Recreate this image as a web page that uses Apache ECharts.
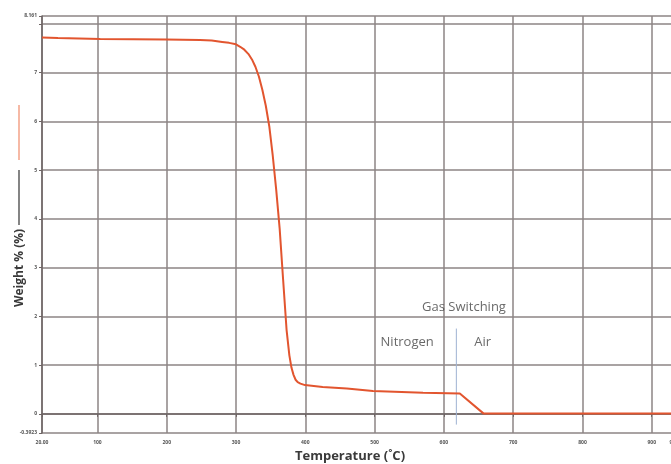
<!DOCTYPE html>
<html><head><meta charset="utf-8">
<script src="https://cdn.jsdelivr.net/npm/echarts@6/dist/echarts.min.js"></script>
<style>html,body{margin:0;padding:0;background:#fff}#c{width:671px;height:464px}</style>
</head><body><div id="c"></div>
<script>
// Temperature (°C)
const temps = [20, 43, 45, 104, 199, 248, 265, 280, 290, 300, 306, 312, 318, 323, 328, 333, 338, 343, 348, 353, 358, 363, 368, 373, 377, 380, 383, 386, 389, 393, 399.5, 425, 460, 497.5, 570, 623, 657, 935];
// Weight (%)
const weights = [7.72, 7.71, 7.69, 7.69, 7.68, 7.67, 7.66, 7.63, 7.61, 7.58, 7.53, 7.47, 7.38, 7.27, 7.12, 6.92, 6.65, 6.32, 5.9, 5.3, 4.6, 3.8, 2.75, 1.72, 1.2, 0.95, 0.8, 0.7, 0.65, 0.62, 0.59, 0.55, 0.52, 0.47, 0.435, 0.42, 0.01, 0.01];
// gas switch marker (temperature, weight range)
const switchTemp = [618, 618];
const switchWeight = [1.75, -0.22];
// annotation labels
const noteText = ['Gas Switching', 'Nitrogen', 'Air'];
const noteTemp = [629, 547, 656];
const noteWeight = [2.19, 1.475, 1.475];
const xMin = 20, xMax = 935;
const yMin = -0.3923, yMax = 8.161;

const chart = echarts.init(document.getElementById('c'), null, {renderer: 'canvas'});
const gridColor = '#8d8585';
const labelStyle = {fontSize: 5, color: '#555', fontFamily: 'Open Sans', fontWeight: 'bold'};
chart.setOption({
  animation: false,
  backgroundColor: '#fff',
  grid: {left: 42, right: -5, top: 16, bottom: 31, containLabel: false, outerBoundsMode: 'none'},
  xAxis: {
    type: 'value', min: xMin, max: xMax, splitNumber: 9,
    axisLine: {show: true, lineStyle: {color: '#6e6464', width: 1.5}},
    axisTick: {show: true, length: 3, lineStyle: {color: '#6e6464'}},
    splitLine: {show: true, lineStyle: {color: gridColor, width: 1.5}},
    axisLabel: Object.assign({margin: 7, showMinLabel: true, showMaxLabel: true,
      formatter: v => v === xMin ? '20.00' : (v === xMax ? '935.0' : String(v))}, labelStyle)
  },
  yAxis: {
    type: 'value', min: yMin, max: yMax, splitNumber: 8,
    axisLine: {show: true, lineStyle: {color: '#6e6464', width: 1.5}},
    axisTick: {show: true, length: 3, lineStyle: {color: '#6e6464'}},
    splitLine: {show: true, lineStyle: {color: gridColor, width: 1.5}},
    axisLabel: Object.assign({margin: 5, showMinLabel: true, showMaxLabel: true,
      formatter: v => v === yMin ? '-0.3923' : (v === yMax ? '8.161' : (v === 8 ? '' : String(v)))}, labelStyle)
  },
  series: [
    {
      type: 'line', data: temps.map((t, i) => [t, weights[i]]),
      showSymbol: false, smooth: false,
      lineStyle: {color: '#e2552f', width: 2}, z: 5
    },
    {
      type: 'line', data: switchTemp.map((t, i) => [t, switchWeight[i]]),
      showSymbol: false, lineStyle: {color: '#9fb3d3', width: 1}, z: 4
    },
    {
      type: 'scatter', symbolSize: 0, z: 6,
      data: noteText.map((s, i) => ({value: [noteTemp[i], noteWeight[i]], name: s})),
      label: {show: true, position: 'inside', formatter: p => p.name,
        fontFamily: 'Open Sans', fontSize: 13, color: '#444'}
    }
  ],
  graphic: [
    {type: 'text', x: 350, y: 456, style: {text: 'Temperature (˚C)', font: 'bold 13px "Open Sans"', fill: '#3a3a3a', textAlign: 'center', textVerticalAlign: 'middle'}},
    {type: 'text', x: 20, y: 268, rotation: Math.PI / 2, style: {text: 'Weight % (%)', font: 'bold 12px "Open Sans"', fill: '#3a3a3a', textAlign: 'center', textVerticalAlign: 'middle'}},
    {type: 'line', shape: {x1: 19, y1: 105, x2: 19, y2: 160}, style: {stroke: '#f08a6a', lineWidth: 1.2}},
    {type: 'line', shape: {x1: 19, y1: 170, x2: 19, y2: 225}, style: {stroke: '#333', lineWidth: 1.2}}
  ]
});
</script></body></html>
